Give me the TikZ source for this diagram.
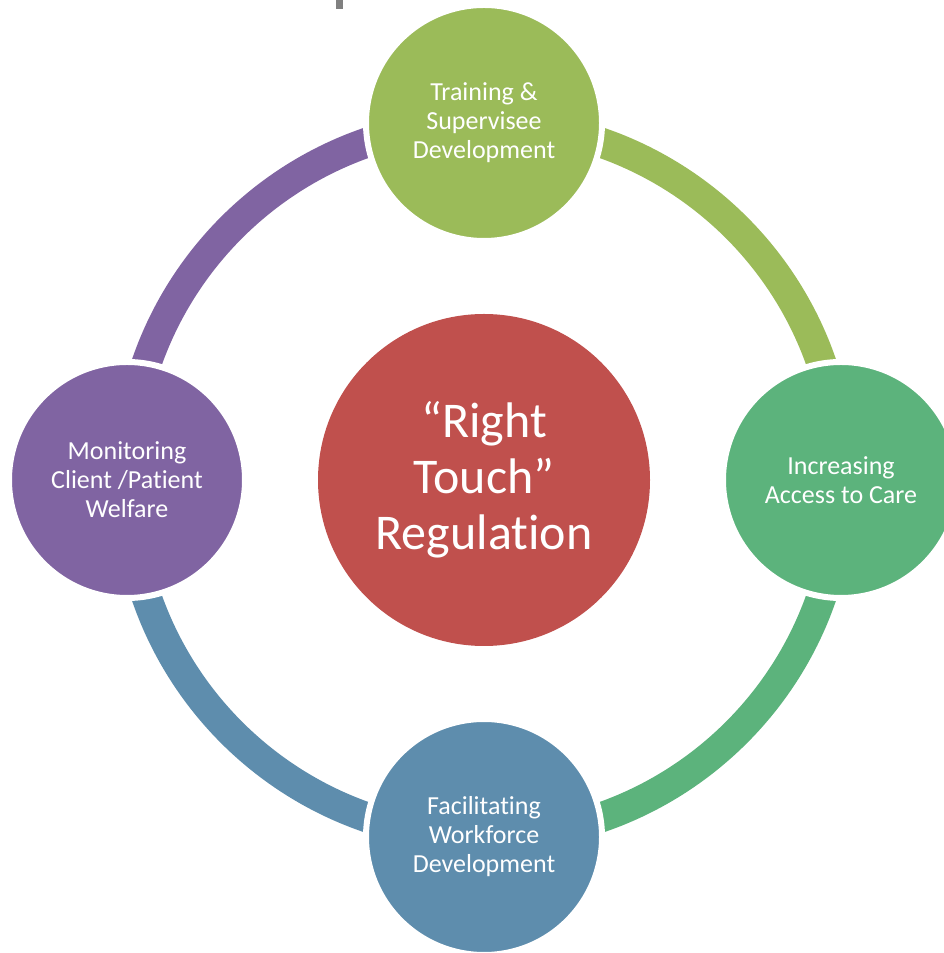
\documentclass[tikz,border=0pt]{standalone}
\usepackage{fontspec}
\usetikzlibrary{calc}
\setmainfont[Ligatures=NoCommon]{Carlito}
\definecolor{rtRouge}{HTML}{C0504D}
\definecolor{rtOlive}{HTML}{9BBB59}
\definecolor{rtVert}{HTML}{5CB37C}
\definecolor{rtBleu}{HTML}{5E8DAD}
\definecolor{rtViolet}{HTML}{8064A2}
\tikzset{
  petale/.style={circle, fill=#1, draw=white, line width=6pt, minimum size=236pt,
    inner sep=0pt, text=white, align=center, font=\fontsize{26}{29}\selectfont},
  anneau/.style={draw=#1, line width=30pt},
}
\begin{document}
\begin{tikzpicture}[x=1pt,y=1pt]
  \useasboundingbox (0,0) rectangle (943,953);
  \def\rayon{357}
  \fill[gray] (336,944) rectangle (343,953);%petite marque en haut
  \coordinate (centre) at (484,473);
  \coordinate (haut) at ($(centre)+(90:\rayon)$);
  \coordinate (droite) at ($(centre)+(0:\rayon)$);
  \coordinate (bas) at ($(centre)+(-90:\rayon)$);
  \coordinate (gauche) at ($(centre)+(180:\rayon)$);
  % anneau en quatre quarts
  \draw [anneau=rtOlive] (haut) arc [start angle=90, end angle=0, radius=\rayon];
  \draw [anneau=rtVert] (droite) arc [start angle=0, end angle=-90, radius=\rayon];
  \draw [anneau=rtBleu] (bas) arc [start angle=-90, end angle=-180, radius=\rayon];
  \draw [anneau=rtViolet] (gauche) arc [start angle=180, end angle=90, radius=\rayon];
  % cercles
  \node [petale=rtOlive] (formation) at (haut) {Training \&\\Supervisee\\Development};
  \node [petale=rtVert] (acces) at (droite) {Increasing\\Access to Care};
  \node [petale=rtBleu] (effectif) at (bas) {Facilitating\\Workforce\\Development};
  \node [petale=rtViolet] (bienetre) at (gauche) {Monitoring\\Client /Patient\\Welfare};
  \node [circle, fill=rtRouge, minimum size=332pt, inner sep=0pt, text=white, align=center,
    font=\fontsize{50}{56}\selectfont] (regulation) at (centre) {“Right\\Touch”\\Regulation};
\end{tikzpicture}
\end{document}
